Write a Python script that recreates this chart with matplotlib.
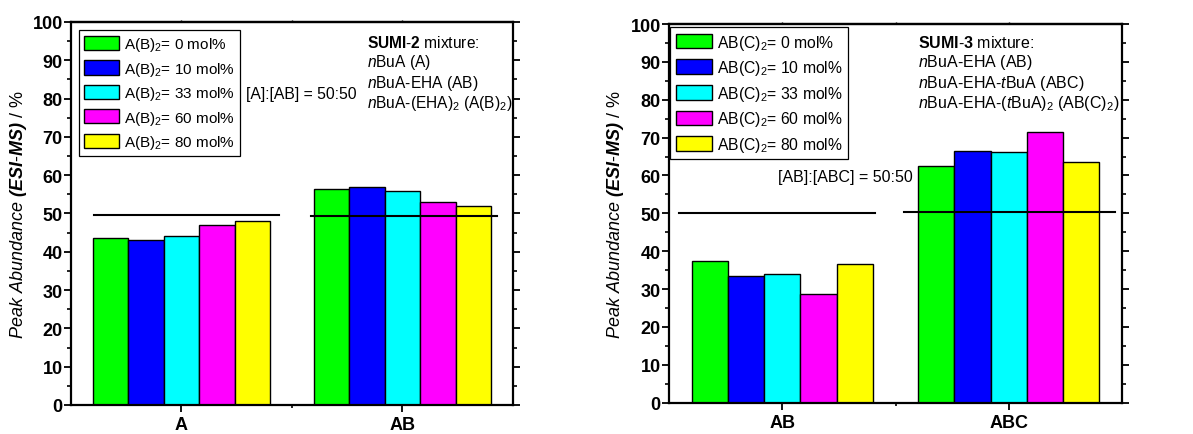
import matplotlib
matplotlib.use("Agg")
import matplotlib.pyplot as plt
import numpy as np
from matplotlib.ticker import MultipleLocator, FixedLocator

plt.rcParams['font.family'] = ['Liberation Sans', 'DejaVu Sans']
plt.rcParams['mathtext.fontset'] = 'custom'
plt.rcParams['mathtext.rm'] = 'Liberation Sans'
plt.rcParams['mathtext.it'] = 'Liberation Sans:italic'
plt.rcParams['mathtext.bf'] = 'Liberation Sans:bold'
plt.rcParams['mathtext.bfit'] = 'Liberation Sans:italic:bold'
plt.rcParams['mathtext.default'] = 'regular'

# ---- data ----
colors = ['#00FF00', '#0000FF', '#00FFFF', '#FF00FF', '#FFFF00']
mol_pct = [0, 10, 33, 60, 80]

left_categories = ['A', 'AB']
left_values = [
    [43.5, 56.3],   # 0 mol%
    [43.0, 57.0],   # 10 mol%
    [44.0, 55.9],   # 33 mol%
    [47.0, 52.9],   # 60 mol%
    [48.0, 51.9],   # 80 mol%
]
left_ref_y = [49.7, 49.4]

right_categories = ['AB', 'ABC']
right_values = [
    [37.5, 62.6],
    [33.5, 66.5],
    [33.9, 66.1],
    [28.6, 71.4],
    [36.6, 63.5],
]
right_ref_y = [50.0, 50.3]

y_ticks = list(range(0, 101, 10))

left_legend = [r'A(B)$_2$= %d mol%%' % m for m in mol_pct]
right_legend = [r'AB(C)$_2$= %d mol%%' % m for m in mol_pct]

left_notes = [r'$\mathbf{SUMI}$$\mathbf{\text{-}2}$ mixture:', r'$\mathit{n}$BuA (A)',
              r'$\mathit{n}$BuA-EHA (AB)', r'$\mathit{n}$BuA-(EHA)$_2$ (A(B)$_2$)']
right_notes = [r'$\mathbf{SUMI}$$\mathbf{\text{-}3}$ mixture:', r'$\mathit{n}$BuA-EHA (AB)',
               r'$\mathit{n}$BuA-EHA-$\mathit{t}$BuA (ABC)',
               r'$\mathit{n}$BuA-EHA-($\mathit{t}$BuA)$_2$ (AB(C)$_2$)']

ylabel = r'$\mathit{Peak\ Abundance}$ $\mathbfit{(ESI}$-$\mathbfit{MS)}$ / %'

fig = plt.figure(figsize=(11.93, 4.35), dpi=100)
axL = fig.add_axes([0.0595, 0.0667, 0.3705, 0.8805])
axR = fig.add_axes([0.5608, 0.0720, 0.3797, 0.8705])

bw = 0.16

def setup(ax, cats, values, legend_labels, legend_anchor, legend_fs):
    x = np.arange(1, len(cats) + 1)
    for i, vals in enumerate(values):
        ax.bar(x + (i - 2) * bw, vals, width=bw, color=colors[i],
               edgecolor='black', linewidth=1.0, label=legend_labels[i], zorder=2)
    ax.set_xlim(0.5, 2.5)
    ax.set_ylim(0, 100)
    ax.tick_params(axis='y', which='major', direction='out', length=5, width=1.3,
                   right=True, pad=1)
    ax.tick_params(axis='y', which='minor', direction='out', length=3, width=1.2, right=True)
    ax.tick_params(axis='x', which='major', direction='out', length=5, width=1.3, pad=3)
    ax.tick_params(axis='x', which='minor', direction='out', length=2.5, width=1.2)
    ax.set_xticks(list(x))
    ax.set_xticklabels(cats, fontsize=13, fontweight='bold')
    ax.xaxis.set_minor_locator(FixedLocator([1.5]))
    ax.set_yticks(y_ticks)
    ax.set_yticklabels([str(v) for v in y_ticks], fontsize=13, fontweight='bold')
    ax.yaxis.set_minor_locator(MultipleLocator(5))
    sec = ax.secondary_xaxis('top')
    sec.set_xticks([1, 1.5, 2])
    sec.set_xticklabels([])
    sec.tick_params(direction='out', length=1.5, width=1.0)
    sec.spines['top'].set_linewidth(1.6)
    for s in ax.spines.values():
        s.set_linewidth(1.6)
    ax.set_ylabel(ylabel, fontsize=13)
    leg = ax.legend(loc='upper left', bbox_to_anchor=legend_anchor, fontsize=legend_fs,
                    frameon=True, fancybox=False, edgecolor='black', framealpha=1,
                    handlelength=2.3, handleheight=1.05, labelspacing=0.42,
                    handletextpad=0.3, borderpad=0.35, borderaxespad=0)
    leg.get_frame().set_linewidth(0.9)
    return ax

setup(axL, left_categories, left_values, left_legend, (0.018, 0.979), 11)
setup(axR, right_categories, right_values, right_legend, (0.003, 0.992), 11.3)

for ax in (axL, axR):
    for lbl in ax.get_yticklabels() + ax.get_xticklabels():
        lbl.set_fontweight('bold')

# reference lines
axL.plot([0.604, 1.441], [left_ref_y[0]] * 2, color='black', lw=1.5, zorder=3)
axL.plot([1.586, 2.428], [left_ref_y[1]] * 2, color='black', lw=1.5, zorder=3)
axR.plot([0.544, 1.41], [right_ref_y[0]] * 2, color='black', lw=1.5, zorder=3)
axR.plot([1.538, 2.469], [right_ref_y[1]] * 2, color='black', lw=1.5, zorder=3)

# annotations
axL.text(1.29, 81.2, '[A]:[AB] = 50:50', fontsize=11.3, va='center', ha='left')
axR.text(1.577, 59.6, '[AB]:[ABC] = 50:50', fontsize=11.5, va='center', ha='right')

for ys, txt in zip([94.8, 89.6, 84.3, 79.1], left_notes):
    axL.text(1.84, ys, txt, fontsize=11.2, va='center', ha='left')
for ys, txt in zip([95.2, 90.0, 84.6, 79.4], right_notes):
    axR.text(1.599, ys, txt, fontsize=11.5, va='center', ha='left')

axL.yaxis.set_label_coords(-0.095, 0.5)
axR.yaxis.set_label_coords(-0.095, 0.5)

fig.savefig('out.png', dpi=100)
